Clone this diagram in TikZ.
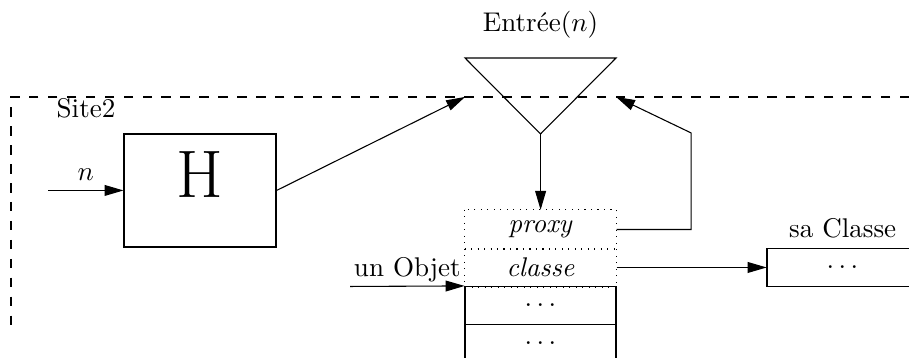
\documentclass[tikz,border=0pt]{standalone}
\usepackage{amsmath}
\usetikzlibrary{arrows.meta,positioning}

\tikzset{
  flow/.style={-{Triangle[length=7pt,width=4pt]}},
  cell/.style={minimum width=1.963cm, minimum height=0.494cm, inner sep=0pt},
  frame/.style={dash pattern=on 3.5pt off 3.5pt}
}

\begin{document}
\begin{tikzpicture}[scale=1.3]
\useasboundingbox (0,0) rectangle (9.09,3.58);

% site boundary
\draw[frame] (9.09,2.61) -- (0.11,2.61) -- (0.11,0.33);
\node (site) at (0.86,2.50) {Site2};

% H
\node[draw, minimum width=1.976cm, minimum height=1.469cm] (hbox) at (2.00,1.675) {};
\node[font=\Huge] (hlabel) at (2.00,1.83) {H};
\coordinate (nin) at (0.48,1.675);
\draw[flow] (nin) -- node[above]{$n$} (hbox.west);

% entry
\draw (4.65,3.00) coordinate (tl) -- (6.16,3.00) coordinate (tr) -- (5.405,2.24) coordinate (apex) -- cycle;
\node (entree) at (5.405,3.33) {Entr\'ee($n$)};
\coordinate (inl) at (4.65,2.61);
\coordinate (inr) at (6.16,2.61);
\coordinate (bend) at (6.91,2.25);
\draw[flow] (hbox.east) -- (inl);

% object
\node[cell] (proxy) at (5.405,1.285) {\textit{proxy}};
\node[cell] (classe) at (5.405,0.905) {\textit{classe}};
\draw[dotted] (proxy.north west) rectangle (classe.south east);
\draw[dotted] (proxy.south west) -- (proxy.south east);
\node[cell, draw] (rowa) at (5.405,0.525) {$\ldots$};
\node[cell, draw] (rowb) at (5.405,0.145) {$\ldots$};
\draw[flow] (apex) -- (proxy.north);
\draw[flow] (proxy.east) -| (bend) -- (inr);
\coordinate (objin) at (3.50,0.715);
\draw[flow] (objin) -- node[above, inner sep=1.5pt]{un Objet} (rowa.north west);

% class
\node[cell, draw] (saclasse) at (8.425,0.905) {$\ldots$};
\node[above=0pt of saclasse] (salabel) {sa Classe};
\draw[flow] (classe.east) -- (saclasse.west);

\end{tikzpicture}
\end{document}
